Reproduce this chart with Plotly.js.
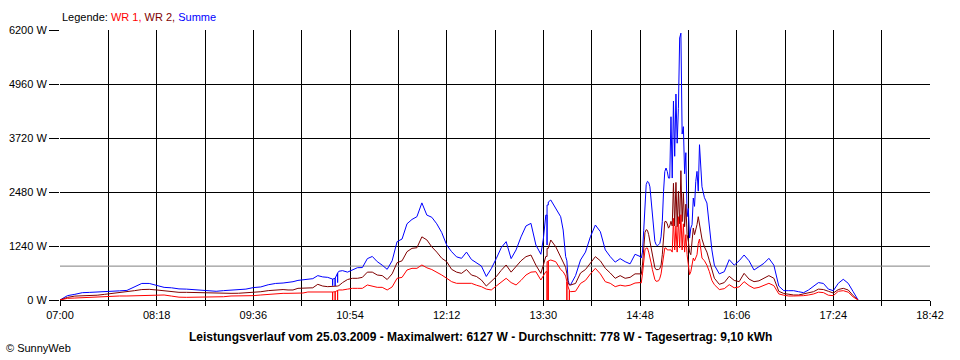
<!DOCTYPE html>
<html>
<head>
<meta charset="utf-8">
<script src="https://cdn.plot.ly/plotly-3.0.1.min.js"></script>
<style>html,body{margin:0;padding:0;background:#fff;}#chart{width:960px;height:360px;}</style>
</head>
<body>
<div id="chart"></div>
<script>
// Time axis labels (every second grid line is labelled)
const xTickLabels = ["07:00","08:18","09:36","10:54","12:12","13:30","14:48","16:06","17:24","18:42"];
const yTickValues = [0, 1240, 2480, 3720, 4960, 6200];
const averageW = 778;

// repeated times mark the short drop-outs (vertical spikes)
const times = [
  "07:00","07:06","07:12","07:18","07:24","07:30","07:36","07:42","07:48","07:54","08:00","08:06","08:12","08:18","08:24","08:30","08:36","08:42","08:48","08:54","09:00","09:06","09:12","09:18","09:24","09:30","09:36","09:42","09:48","09:54",
  "10:00","10:04","10:08","10:12","10:16","10:20","10:24","10:28","10:32","10:36",
  "10:39","10:40","10:40","10:40","10:42","10:42","10:42","10:44","10:44","10:44","10:45",
  "10:48","10:52","10:56","11:00","11:04","11:08","11:12","11:16","11:20","11:24","11:28","11:32","11:36","11:40","11:44","11:48","11:52","11:56","12:00","12:04","12:08","12:12","12:16","12:20","12:24","12:28","12:32","12:36","12:40","12:44","12:48","12:52","12:56","13:00","13:04","13:08","13:12","13:16","13:20","13:24","13:28",
  "13:30","13:32","13:33","13:33","13:33","13:34","13:34","13:34","13:36","13:40","13:44","13:46","13:48","13:49","13:49","13:49","13:50","13:51","13:51","13:51","13:52","13:56",
  "14:00","14:04","14:08","14:12","14:16","14:20","14:24","14:28","14:32","14:36","14:40","14:44",
  "14:48","14:49","14:50","14:51","14:52","14:53","14:54","14:55","14:56","14:57","14:58","14:59","15:00","15:01","15:02","15:03","15:04","15:05","15:06","15:07","15:08","15:09","15:10","15:11","15:12","15:13","15:14","15:15","15:16","15:17","15:18","15:19","15:20","15:21","15:22","15:23","15:24","15:25","15:26","15:27","15:28","15:29","15:30","15:31","15:32","15:33","15:34","15:35","15:36",
  "15:38","15:40","15:42","15:44","15:46","15:48","15:52","15:56","16:00","16:04","16:08","16:12","16:16","16:20","16:24","16:28","16:32","16:36","16:40","16:44","16:48","16:52","16:56","17:00","17:04","17:08","17:12","17:16","17:20","17:24","17:28","17:32","17:36","17:40","17:44"
];

const summe = [
  0,100,130,168,175,180,185,205,210,220,300,380,380,340,290,280,255,250,235,215,210,200,215,225,230,250,285,300,350,380,
  390,398,420,450,460,465,490,560,530,520,
  480,480,330,480,500,320,500,620,400,620,660,
  674,640,700,742,745,950,1000,880,800,704,900,1340,1400,1750,1850,1913,2230,1950,1900,1750,1550,1263,1109,990,957,1100,930,850,780,540,720,950,1200,1340,950,1150,1450,1700,1760,1263,1050,
  1400,1950,1950,1263,2181,2181,2181,2250,2296,2105,1913,1607,1000,900,900,900,450,350,350,350,350,560,
  918,1100,1454,1722,1569,1150,995,870,950,880,830,1050,
  1000,964,1100,1600,2200,2650,2724,2700,2600,2300,2000,1653,1350,1270,1250,1270,1300,1450,1807,2495,2950,3031,2950,2800,2800,4208,2800,4568,3300,4730,3600,4400,6016,6127,3811,3980,2900,3383,1913,2100,1423,1650,1730,2342,2150,2724,2954,2500,3566,
  2600,2350,2227,1700,1150,800,600,650,926,800,900,1033,900,689,760,842,957,800,320,214,214,214,190,168,230,306,400,380,250,214,383,475,383,191,0
];

const wr2 = [
  0,60,90,92,95,110,130,150,168,180,214,240,245,230,207,190,176,176,170,160,155,153,153,153,155,165,180,190,215,230,
  240,230,230,268,268,268,280,360,320,306,
  306,306,306,306,310,310,310,320,320,320,330,
  400,470,498,498,520,640,640,574,560,470,600,857,900,1109,1186,1200,1450,1380,1220,1100,960,880,704,640,612,700,574,540,460,321,420,535,680,804,640,780,900,995,1033,800,612,
  800,1000,1000,1000,1186,1186,1186,1186,1378,1224,995,900,750,600,600,600,400,345,345,345,345,380,
  620,700,850,995,900,727,620,498,560,498,520,600,
  600,582,800,1200,1550,1615,1600,1500,1347,1150,964,850,740,697,697,700,720,800,1040,1500,1799,1807,1750,1650,1700,1807,1700,2680,1700,2700,1683,2500,1750,2970,1800,2450,1683,2200,1500,1347,1100,1040,1300,1653,1500,1600,1730,1913,1750,
  1400,1220,1100,900,700,500,360,400,544,450,420,612,480,421,440,500,560,500,200,150,130,115,115,140,170,191,250,240,200,160,240,268,230,100,0
];

const wr1 = [
  0,38,45,54,54,60,70,92,92,92,95,95,100,110,115,90,65,61,61,61,61,65,75,92,92,95,100,115,130,150,
  153,153,153,153,160,184,184,184,184,184,
  184,184,0,184,190,0,190,220,0,220,230,
  230,250,268,268,268,345,320,291,291,230,300,498,520,689,727,727,804,740,700,640,574,500,421,383,383,383,383,340,306,250,230,320,420,498,400,345,450,574,640,650,459,
  550,650,650,0,880,880,0,900,918,880,700,650,550,420,0,420,300,220,0,220,191,200,
  380,450,600,727,600,420,383,306,340,320,340,390,
  400,390,600,950,1150,1194,1194,1100,1000,850,700,544,470,429,429,440,500,600,800,1000,1194,1194,1150,1150,1150,1150,1100,1875,1148,1700,1100,1913,1200,1959,1148,1750,1100,1500,1040,735,582,650,800,964,900,1000,1040,1300,1400,
  964,900,800,650,450,352,240,260,352,280,300,421,330,268,290,330,383,330,140,110,92,92,92,100,115,138,180,170,110,100,200,214,180,70,0
];

function toMin(s){ const p = s.split(':').map(Number); return p[0]*60 + p[1]; }
const xs = times.map(toMin);
const labelMins = xTickLabels.map(toMin);
const tickvals = [], ticktext = [];
labelMins.forEach((m, i) => {
  tickvals.push(m); ticktext.push(xTickLabels[i]);
  if (i < labelMins.length - 1) { tickvals.push((m + labelMins[i+1]) / 2); ticktext.push(''); }
});
const xMin = labelMins[0], xMax = labelMins[labelMins.length - 1];

const font = 'Liberation Sans, Arial, sans-serif';
const traces = [
  {x: [xMin, xMax], y: [averageW, averageW], mode: 'lines', line: {color: '#808080', width: 1}, name: 'Durchschnitt'},
  {x: xs, y: summe, mode: 'lines', line: {color: '#0000ff', width: 1}, name: 'Summe'},
  {x: xs, y: wr2, mode: 'lines', line: {color: '#800000', width: 1}, name: 'WR 2'},
  {x: xs, y: wr1, mode: 'lines', line: {color: '#ff0000', width: 1}, name: 'WR 1'}
];

const layout = {
  width: 960, height: 360,
  margin: {l: 60, r: 30, t: 30, b: 60, pad: 0},
  paper_bgcolor: '#ffffff', plot_bgcolor: '#ffffff',
  showlegend: false,
  font: {family: font, size: 11, color: '#000'},
  xaxis: {
    range: [xMin, xMax], tickmode: 'array', tickvals: tickvals, ticktext: ticktext,
    showgrid: true, gridcolor: '#000', gridwidth: 1, zeroline: false,
    ticks: 'outside', ticklen: 5, tickcolor: '#000', tickwidth: 1,
    showline: false, tickfont: {family: font, size: 11, color: '#000'}, fixedrange: true
  },
  yaxis: {
    range: [0, 6200], tickmode: 'array', tickvals: yTickValues, ticktext: yTickValues.map(v => v + ' W'),
    showgrid: true, gridcolor: '#000', gridwidth: 1, zeroline: true, zerolinecolor: '#000', zerolinewidth: 1,
    ticks: 'outside', ticklen: 10, tickcolor: '#000', tickwidth: 1,
    showline: false, tickfont: {family: font, size: 11, color: '#000'}, fixedrange: true
  },
  annotations: [
    {xref: 'paper', yref: 'paper', x: 0, y: 1 + 13/270, xanchor: 'left', yanchor: 'middle', showarrow: false,
     text: 'Legende: <span style="color:#ff0000">WR 1, </span><span style="color:#800000">WR 2, </span><span style="color:#0000ff">Summe</span>',
     font: {family: font, size: 11, color: '#000'}},
    {xref: 'paper', yref: 'paper', x: (480 - 60) / 870, y: -37/270, xanchor: 'center', yanchor: 'middle', showarrow: false,
     text: '<b>Leistungsverlauf vom 25.03.2009 - Maximalwert: 6127 W - Durchschnitt: 778 W - Tagesertrag: 9,10 kWh</b>',
     font: {family: font, size: 12, color: '#000'}},
    {xref: 'paper', yref: 'paper', x: (4 - 60) / 870, y: -48/270, xanchor: 'left', yanchor: 'middle', showarrow: false,
     text: '© SunnyWeb', font: {family: font, size: 11, color: '#000'}}
  ]
};

Plotly.newPlot('chart', traces, layout, {staticPlot: true, displayModeBar: false});
</script>
</body>
</html>
